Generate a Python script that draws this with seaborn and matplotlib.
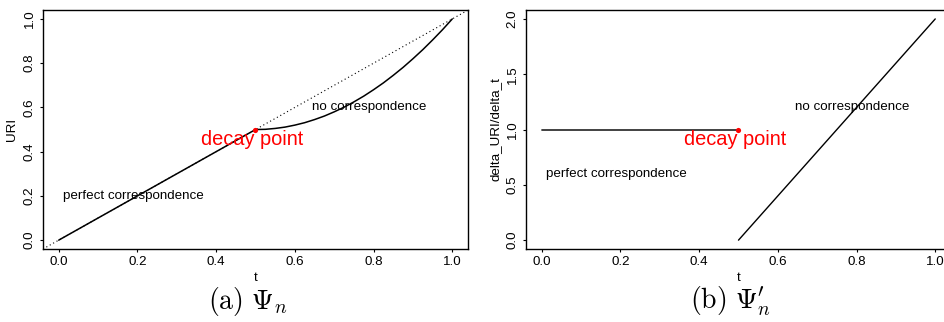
import numpy as np
import pandas as pd
import seaborn as sns
import matplotlib
matplotlib.use("Agg")
import matplotlib.pyplot as plt

# panel (a): URI against t
t_linear = [0.0, 0.5]
uri_linear = [0.0, 0.5]
t_curve = [0.5, 0.525, 0.55, 0.575, 0.6, 0.625, 0.65, 0.675, 0.7, 0.725, 0.75,
           0.775, 0.8, 0.825, 0.85, 0.875, 0.9, 0.925, 0.95, 0.975, 1.0]
uri_curve = [0.5, 0.501, 0.505, 0.511, 0.52, 0.531, 0.545, 0.561, 0.58, 0.601, 0.625,
             0.651, 0.68, 0.711, 0.745, 0.781, 0.82, 0.861, 0.905, 0.951, 1.0]

# panel (b): delta_URI/delta_t against t
t_flat = [0.0, 0.5]
d_flat = [1.0, 1.0]
t_rise = [0.5, 1.0]
d_rise = [0.0, 2.0]

decay_t = 0.5
decay_uri = 0.5
decay_d = 1.0

ticks_x = [0.0, 0.2, 0.4, 0.6, 0.8, 1.0]
ticks_a = [0.0, 0.2, 0.4, 0.6, 0.8, 1.0]
ticks_b = [0.0, 0.5, 1.0, 1.5, 2.0]

sns.set_theme(style="white")
plt.rcParams["font.family"] = ["Liberation Sans", "DejaVu Sans"]
plt.rcParams["mathtext.fontset"] = "cm"
plt.rcParams["axes.edgecolor"] = "black"
plt.rcParams["text.color"] = "black"
plt.rcParams["axes.labelcolor"] = "black"
plt.rcParams["xtick.color"] = "black"
plt.rcParams["ytick.color"] = "black"

fs = 9.6
fig = plt.figure(figsize=(9.44, 3.22), dpi=100)
ax1 = fig.add_axes([0.0455, 0.2267, 0.4503, 0.742])
ax2 = fig.add_axes([0.5572, 0.2267, 0.4502, 0.742])

df_lin = pd.DataFrame({"t": t_linear, "URI": uri_linear})
df_cur = pd.DataFrame({"t": t_curve, "URI": uri_curve})
sns.lineplot(data=df_lin, x="t", y="URI", ax=ax1, color="black", lw=1.1, estimator=None, sort=False)
sns.lineplot(data=df_cur, x="t", y="URI", ax=ax1, color="black", lw=1.1, estimator=None, sort=False)
ax1.axline((0, 0), slope=1, color="black", ls=(0, (1, 2.5)), lw=0.8)
ax1.scatter([decay_t], [decay_uri], s=14, color="red", lw=0, zorder=5)
ax1.annotate("decay point", (decay_t, decay_uri), xytext=(-3, -10), textcoords="offset pixels",
             ha="center", va="center", color="red", fontsize=14.4)
ax1.text(0.19, 0.2, "perfect correspondence", ha="center", va="center", fontsize=fs)
ax1.text(0.79, 0.6, "no correspondence", ha="center", va="center", fontsize=fs)
ax1.set_xlim(-0.04, 1.04)
ax1.set_ylim(-0.04, 1.04)
ax1.set_yticks(ticks_a)
ax1.set_ylabel("URI", fontsize=fs, labelpad=4)

df_flat = pd.DataFrame({"t": t_flat, "d": d_flat})
df_rise = pd.DataFrame({"t": t_rise, "d": d_rise})
sns.lineplot(data=df_flat, x="t", y="d", ax=ax2, color="#333333", lw=1.3, estimator=None, sort=False)
sns.lineplot(data=df_rise, x="t", y="d", ax=ax2, color="black", lw=1.0, estimator=None, sort=False)
ax2.scatter([decay_t], [decay_d], s=14, color="red", lw=0, zorder=5)
ax2.annotate("decay point", (decay_t, decay_d), xytext=(-3, -10), textcoords="offset pixels",
             ha="center", va="center", color="red", fontsize=14.4)
ax2.text(0.19, 0.6, "perfect correspondence", ha="center", va="center", fontsize=fs)
ax2.text(0.79, 1.2, "no correspondence", ha="center", va="center", fontsize=fs)
ax2.set_xlim(-0.04, 1.04)
ax2.set_ylim(-0.08, 2.08)
ax2.set_yticks(ticks_b)
ax2.set_ylabel("delta_URI/delta_t", fontsize=fs, labelpad=4)

for ax in (ax1, ax2):
    ax.set_xticks(ticks_x)
    ax.set_xlabel("t", fontsize=fs, labelpad=3)
    ax.tick_params(length=2.2, width=0.8, pad=3, labelsize=fs, bottom=True, left=True)
    plt.setp(ax.get_yticklabels(), rotation=90, va="center")
    for s in ax.spines.values():
        s.set_linewidth(1.0)
        s.set_color("black")

fig.text(248 / 944, 1 - 301 / 322, r"$\mathrm{(a)}\ \Psi_n$", ha="center", va="center", fontsize=20)
fig.text(731 / 944, 1 - 301 / 322, r"$\mathrm{(b)}\ \Psi^{\prime}_n$", ha="center", va="center", fontsize=20)

fig.savefig("out.png", dpi=100)
